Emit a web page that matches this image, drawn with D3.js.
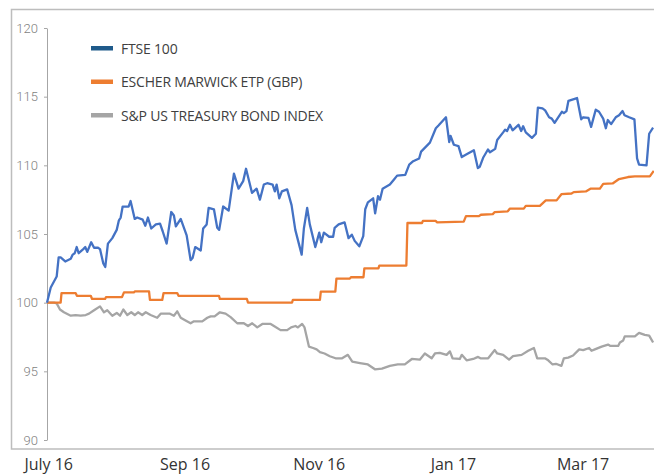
<!DOCTYPE html>
<html lang="en">
<head>
  <meta charset="UTF-8">
  <title>FTSE 100 vs Escher Marwick ETP vs S&amp;P US Treasury Bond Index</title>
  <script src="https://d3js.org/d3.v7.min.js"></script>
  <style>
    body { margin: 0; background: #fff; }
    svg { display: block; }
  </style>
</head>
<body>
  <svg width="654" height="474"></svg>

  <script>
    // Data: [days since 30 Jun 2016, index value]
    const ftse = [
      [0, 100.0], [1.7, 101.1], [4.4, 101.9], [5.3, 103.3], [6.2, 103.3], [8.3, 103.0],
      [10.8, 103.2], [11.7, 103.5], [12.6, 103.6], [13.5, 104.05], [14.4, 103.6], [16.5, 103.9],
      [17.4, 104.05], [18.3, 103.7], [20.1, 104.4], [21.4, 104.0], [23.2, 104.0], [24.1, 103.9],
      [25.6, 102.85], [26.5, 102.6], [27.7, 104.3], [29.7, 104.7], [31.7, 105.3], [32.7, 106.0],
      [33.5, 106.2], [34.4, 107.0], [37.1, 107.0], [38.0, 107.4], [39.9, 106.1], [41.0, 106.2],
      [43.5, 106.05], [44.7, 105.6], [45.9, 106.2], [47.4, 105.4], [49.5, 105.7], [51.4, 105.75],
      [52.6, 105.2], [54.4, 104.3], [56.5, 106.6], [57.7, 106.35], [58.6, 105.55], [60.8, 106.1],
      [63.5, 104.9], [65.3, 103.1], [66.2, 103.25], [67.4, 104.05], [69.9, 103.8], [71.0, 105.4],
      [72.6, 105.7], [73.5, 106.9], [75.9, 106.8], [77.4, 105.45], [78.3, 105.3], [80.1, 107.0],
      [82.6, 106.7], [85.0, 109.4], [87.1, 108.3], [89.2, 108.85], [90.5, 109.75], [93.2, 108.0],
      [95.3, 108.3], [96.8, 107.5], [98.6, 108.6], [100.1, 108.7], [102.6, 108.6], [103.6, 108.1],
      [104.4, 108.6], [105.6, 107.6], [106.8, 108.1], [109.2, 108.25], [111.2, 107.1], [112.9, 105.3],
      [115.8, 103.5], [116.8, 105.4], [118.3, 106.9], [119.5, 105.7], [122.0, 104.05], [123.8, 105.1],
      [124.7, 104.4], [125.9, 105.1], [128.3, 104.8], [130.1, 104.8], [130.8, 105.45], [132.6, 105.7],
      [135.3, 105.85], [137.1, 104.7], [138.6, 104.95], [139.9, 104.5], [142.0, 104.1], [143.8, 104.85],
      [144.7, 106.8], [145.9, 107.3], [148.3, 107.6], [149.2, 106.5], [150.5, 107.75], [151.4, 107.5],
      [152.6, 108.3], [155.9, 108.6], [157.7, 108.95], [159.2, 109.25], [162.9, 109.3], [164.7, 110.05],
      [166.5, 110.3], [169.2, 110.5], [170.1, 111.0], [174.1, 111.65], [176.8, 112.7], [178.0, 112.9],
      [181.4, 113.5], [182.9, 111.7], [183.5, 112.15], [185.0, 111.5], [187.1, 111.4], [188.6, 110.6],
      [190.8, 110.8], [194.1, 111.1], [195.9, 109.8], [196.8, 109.9], [198.3, 110.55], [200.5, 111.15],
      [201.4, 110.95], [203.8, 111.2], [204.7, 111.85], [207.4, 112.4], [208.3, 112.6], [209.2, 112.5],
      [210.5, 112.95], [211.7, 112.55], [214.4, 112.95], [215.6, 112.5], [216.5, 112.85], [217.7, 112.4],
      [220.5, 112.0], [222.3, 112.3], [223.2, 114.2], [225.3, 114.15], [226.5, 114.0], [228.3, 113.5],
      [229.5, 113.4], [230.8, 113.1], [234.1, 113.9], [235.0, 113.8], [236.2, 113.95], [237.1, 114.7],
      [241.0, 114.9], [242.9, 113.35], [243.8, 113.5], [246.2, 113.45], [247.4, 112.8], [249.5, 114.05],
      [251.0, 113.9], [252.9, 113.4], [254.1, 112.7], [255.0, 113.3], [256.5, 113.0], [258.6, 113.5],
      [260.1, 113.65], [261.7, 113.95], [262.6, 113.65], [264.7, 113.5], [267.1, 113.35], [268.3, 110.5],
      [269.2, 110.05], [272.6, 110.0], [273.8, 112.3], [275.6, 112.75]
    ];

    const escher = [
      [0, 100.0], [6.2, 100.0], [6.6, 100.7], [13.0, 100.7], [13.6, 100.5], [19.9, 100.5],
      [20.5, 100.27], [26.4, 100.27], [26.8, 100.4], [34.1, 100.4], [35.0, 100.75], [39.5, 100.75],
      [40.0, 100.82], [46.4, 100.82], [46.8, 100.2], [52.4, 100.2], [53.0, 100.7], [59.2, 100.7],
      [59.8, 100.5], [78.2, 100.5], [78.6, 100.27], [90.9, 100.27], [91.4, 100.0], [111.4, 100.0],
      [111.8, 100.2], [124.1, 100.2], [124.5, 100.8], [131.1, 100.8], [131.6, 101.75], [137.7, 101.75],
      [138.2, 101.85], [143.9, 101.85], [144.3, 102.5], [150.7, 102.5], [151.1, 102.7], [163.4, 102.7],
      [163.9, 105.8], [170.5, 105.8], [170.9, 105.95], [176.8, 105.95], [177.3, 105.85], [189.5, 105.9],
      [190.5, 106.3], [196.4, 106.3], [197.3, 106.4], [202.7, 106.45], [203.6, 106.6], [209.5, 106.65],
      [210.5, 106.85], [216.8, 106.85], [217.7, 107.05], [224.1, 107.05], [226.8, 107.45], [231.7, 107.45],
      [233.9, 107.9], [238.5, 107.95], [239.5, 108.05], [245.0, 108.1], [247.1, 108.3], [251.4, 108.3],
      [252.9, 108.65], [257.2, 108.68], [260.1, 109.0], [264.2, 109.15], [267.3, 109.2], [274.1, 109.2],
      [275.9, 109.6]
    ];

    const treasury = [
      [0, 100.0], [3.2, 100.0], [4.4, 99.95], [5.9, 99.5], [7.7, 99.3], [10.8, 99.05], [13.0, 99.1],
      [15.3, 99.05], [17.6, 99.1], [19.1, 99.2], [21.4, 99.45], [24.1, 99.73], [25.9, 99.3], [27.4, 99.45],
      [29.7, 99.05], [31.7, 99.25], [33.2, 99.05], [34.7, 99.5], [36.5, 99.1], [38.3, 99.3], [39.9, 99.1],
      [41.4, 99.3], [43.3, 99.1], [44.9, 99.3], [47.1, 99.1], [50.1, 98.9], [51.7, 99.2], [55.9, 99.2],
      [57.7, 99.05], [59.2, 99.37], [60.8, 98.9], [63.0, 98.7], [65.3, 98.5], [66.8, 98.64], [70.6, 98.64],
      [72.9, 98.9], [74.4, 99.0], [76.2, 99.0], [78.6, 99.3], [81.2, 99.2], [83.5, 98.95], [86.5, 98.5],
      [89.5, 98.5], [91.4, 98.3], [93.3, 98.5], [95.6, 98.2], [97.9, 98.45], [101.7, 98.45], [103.2, 98.3],
      [106.2, 98.0], [109.2, 98.0], [111.0, 98.2], [113.0, 98.3], [114.1, 98.2], [116.0, 98.45], [117.1, 98.2],
      [119.1, 96.8], [121.0, 96.7], [122.6, 96.6], [124.1, 96.4], [126.2, 96.3], [128.6, 96.1], [131.2, 95.95],
      [134.2, 95.95], [136.8, 96.2], [138.8, 95.7], [142.3, 95.6], [145.9, 95.5], [149.1, 95.15], [152.3, 95.2],
      [155.9, 95.4], [159.5, 95.5], [162.7, 95.5], [165.9, 95.9], [169.5, 95.85], [171.8, 96.3], [174.9, 95.95],
      [176.4, 96.3], [178.6, 96.35], [181.7, 96.2], [183.2, 96.45], [184.4, 95.95], [187.7, 95.9], [188.6, 96.2],
      [190.8, 95.8], [193.8, 95.9], [196.0, 96.05], [197.1, 95.95], [200.6, 95.95], [203.6, 96.55], [204.7, 96.3],
      [207.4, 96.2], [210.1, 95.85], [211.9, 96.1], [215.8, 96.2], [218.8, 96.5], [221.4, 96.7], [222.9, 95.95],
      [226.4, 95.95], [227.9, 95.8], [229.9, 95.5], [231.4, 95.55], [233.9, 95.4], [235.0, 95.95], [237.0, 96.0],
      [239.2, 96.15], [242.0, 96.6], [243.8, 96.55], [246.5, 96.7], [247.6, 96.5], [249.1, 96.6], [252.2, 96.8],
      [255.1, 96.95], [256.2, 96.85], [259.7, 96.85], [260.5, 97.1], [262.0, 97.25], [262.7, 97.55], [267.3, 97.55],
      [269.2, 97.8], [271.8, 97.65], [273.8, 97.6], [275.6, 97.1]
    ];

    const seriesNames = ["FTSE 100", "ESCHER MARWICK ETP (GBP)", "S&P US TREASURY BOND INDEX"];
    const yTicks = [90, 95, 100, 105, 110, 115, 120];
    const xTickDates = ["2016-07-01", "2016-09-01", "2016-11-01", "2017-01-01", "2017-03-01"];
    const xTickLabels = ["July 16", "Sep 16", "Nov 16", "Jan 17", "Mar 17"];

    const start = new Date(2016, 5, 30);
    const toDate = d => new Date(start.getTime() + d * 864e5);

    const svg = d3.select("svg");

    // outer frame
    svg.append("rect")
      .attr("x", 11.5).attr("y", 9.5)
      .attr("width", 700).attr("height", 439.5)
      .attr("fill", "none")
      .attr("stroke", "#bdbdbd")
      .attr("stroke-width", 1.5);

    const x = d3.scaleTime()
      .domain([start, toDate(276)])
      .range([47, 654]);

    const y = d3.scaleLinear()
      .domain([90, 120])
      .range([440, 28]);

    // y axis
    const yAxis = svg.append("g")
      .attr("transform", "translate(47,0)")
      .call(d3.axisLeft(y).tickValues(yTicks).tickSize(3).tickSizeOuter(0).tickPadding(6));
    yAxis.select(".domain").attr("stroke", "#a6a6a6");
    yAxis.selectAll(".tick line").attr("stroke", "#a6a6a6");
    yAxis.selectAll(".tick text")
      .attr("fill", "#7f7f7f")
      .style("font-family", "Roboto, 'Liberation Sans', sans-serif")
      .style("font-weight", "300")
      .style("font-size", "13px");

    // x axis labels
    const parse = d3.timeParse("%Y-%m-%d");
    const xAxis = svg.append("g")
      .attr("transform", "translate(-1,455)")
      .call(d3.axisBottom(x)
        .tickValues(xTickDates.map(parse))
        .tickFormat((d, i) => xTickLabels[i])
        .tickSize(0).tickPadding(4));
    xAxis.select(".domain").remove();
    xAxis.selectAll(".tick text")
      .attr("fill", "#333")
      .style("font-family", "'Open Sans', 'Liberation Sans', sans-serif")
      .style("font-size", "16px");

    const colors = ["#4472c4", "#ed7d31", "#a5a5a5"];
    const legendColors = ["#1f5a8a", "#ed7d31", "#a5a5a5"];

    const line = d3.line()
      .x(d => x(toDate(d[0])))
      .y(d => y(d[1]));

    [treasury, escher, ftse].forEach((s, i) => {
      svg.append("path")
        .datum(s)
        .attr("fill", "none")
        .attr("stroke", colors[2 - i])
        .attr("stroke-width", 2.3)
        .attr("stroke-linejoin", "round")
        .attr("d", line);
    });

    // legend
    const legend = svg.append("g");
    seriesNames.forEach((name, i) => {
      const ly = 48 + i * 33.5;
      legend.append("rect")
        .attr("x", 91).attr("y", ly - 2)
        .attr("width", 22).attr("height", 4.5)
        .attr("fill", legendColors[i]);
      legend.append("text")
        .attr("x", 121).attr("y", ly + 5.5)
        .attr("fill", "#404040")
        .style("font-family", "'Open Sans', 'Liberation Sans', sans-serif")
        .style("font-size", "14px")
        .style("letter-spacing", "-0.2px")
        .text(name);
    });
  </script>
</body>
</html>
